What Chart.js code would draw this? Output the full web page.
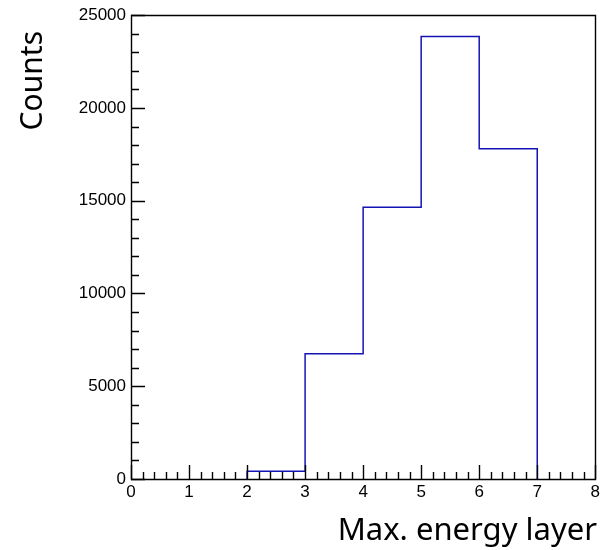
<!DOCTYPE html>
<html>
<head>
<meta charset="utf-8">
<script src="https://cdn.jsdelivr.net/npm/chart.js@4/dist/chart.umd.min.js"></script>
<style>
  html, body { margin: 0; padding: 0; background: #fff; }
  #wrap { width: 603px; height: 550px; position: relative; }
</style>
</head>
<body>
<div id="wrap"><canvas id="histCanvas"></canvas></div>
<script>
// bin edges of the histogram and the counts in each bin
const binEdges = [0, 1, 2, 3, 4, 5, 6, 7, 8];
const counts = [0, 0, 420, 6750, 14650, 23850, 17800, 0];
const xTicks = [0, 1, 2, 3, 4, 5, 6, 7, 8];
const yTicks = [0, 5000, 10000, 15000, 20000, 25000];
const xTitle = 'Max. energy layer';
const yTitle = 'Counts';

// step outline over the filled bins only (empty bins sit on the axis)
// stepped 'before' holds each point's y until the next point's x
const first = counts.findIndex(c => c > 0);
const last = counts.length - 1 - [...counts].reverse().findIndex(c => c > 0);
const points = [{ x: binEdges[first], y: 0 }];
for (let i = first; i <= last; i++) {
    points.push({ x: binEdges[i], y: counts[i] });
}
points.push({ x: binEdges[last + 1], y: 0 });

// ROOT style frame: inward ticks, top and right border, axis titles
const frameAndTicks = {
    id: 'frameAndTicks',
    afterDatasetsDraw(chart) {
        const ctx = chart.ctx;
        const area = chart.chartArea;
        const xs = chart.scales.x;
        const ys = chart.scales.y;
        ctx.save();
        ctx.strokeStyle = '#000';
        ctx.lineWidth = 1.4;
        ctx.beginPath();
        ctx.rect(Math.round(area.left) + 0.5, Math.round(area.top) + 0.5,
                 Math.round(area.right - area.left), Math.round(area.bottom - area.top));
        ctx.stroke();

        // x ticks: major every 1, minor every 0.2
        ctx.beginPath();
        for (let i = 0; i <= 40; i++) {
            const v = i * 0.2;
            const px = Math.round(xs.getPixelForValue(v)) + 0.5;
            const len = (i % 5 === 0) ? 14 : 7;
            ctx.moveTo(px, area.bottom);
            ctx.lineTo(px, area.bottom - len);
        }
        // y ticks: major every 5000, minor every 1000
        for (let i = 0; i <= 25; i++) {
            const v = i * 1000;
            const py = Math.round(ys.getPixelForValue(v)) + 0.5;
            const len = (i % 5 === 0) ? 14 : 8;
            ctx.moveTo(area.left, py);
            ctx.lineTo(area.left + len, py);
        }
        ctx.stroke();

        // axis titles
        ctx.fillStyle = '#000';
        ctx.textAlign = 'right';
        ctx.textBaseline = 'alphabetic';
        ctx.font = '31px "Noto Sans"';
        ctx.fillText(xTitle, 597, 540);
        ctx.font = '30px "Noto Sans"';
        ctx.translate(42, 31);
        ctx.rotate(-Math.PI / 2);
        ctx.fillText(yTitle, 0, 0);
        ctx.restore();
    }
};

const tickFont = { family: '"Liberation Sans", Arial, sans-serif', size: 17 };

new Chart(document.getElementById('histCanvas'), {
    type: 'line',
    data: {
        datasets: [{
            label: 'Counts',
            data: points,
            stepped: 'before',
            borderColor: '#1414b4',
            borderWidth: 1.5,
            pointRadius: 0,
            fill: false
        }]
    },
    options: {
        responsive: true,
        maintainAspectRatio: false,
        animation: false,
        layout: { padding: { top: 15, right: 5, left: 0, bottom: 0 } },
        plugins: {
            legend: { display: false },
            tooltip: { enabled: false }
        },
        scales: {
            x: {
                type: 'linear',
                min: 0,
                max: 8,
                afterBuildTicks: s => { s.ticks = xTicks.map(v => ({ value: v })); },
                afterFit: s => { s.height = 71; },
                grid: { display: false, drawTicks: false },
                border: { display: false },
                ticks: { font: tickFont, color: '#000', padding: 3, maxRotation: 0, callback: v => String(v) }
            },
            y: {
                type: 'linear',
                min: 0,
                max: 25000,
                afterBuildTicks: s => { s.ticks = yTicks.map(v => ({ value: v })); },
                afterFit: s => { s.width = 131; },
                grid: { display: false, drawTicks: false },
                border: { display: false },
                ticks: { font: tickFont, color: '#000', padding: 5, callback: v => String(v) }
            }
        }
    },
    plugins: [frameAndTicks]
});
</script>
</body>
</html>
